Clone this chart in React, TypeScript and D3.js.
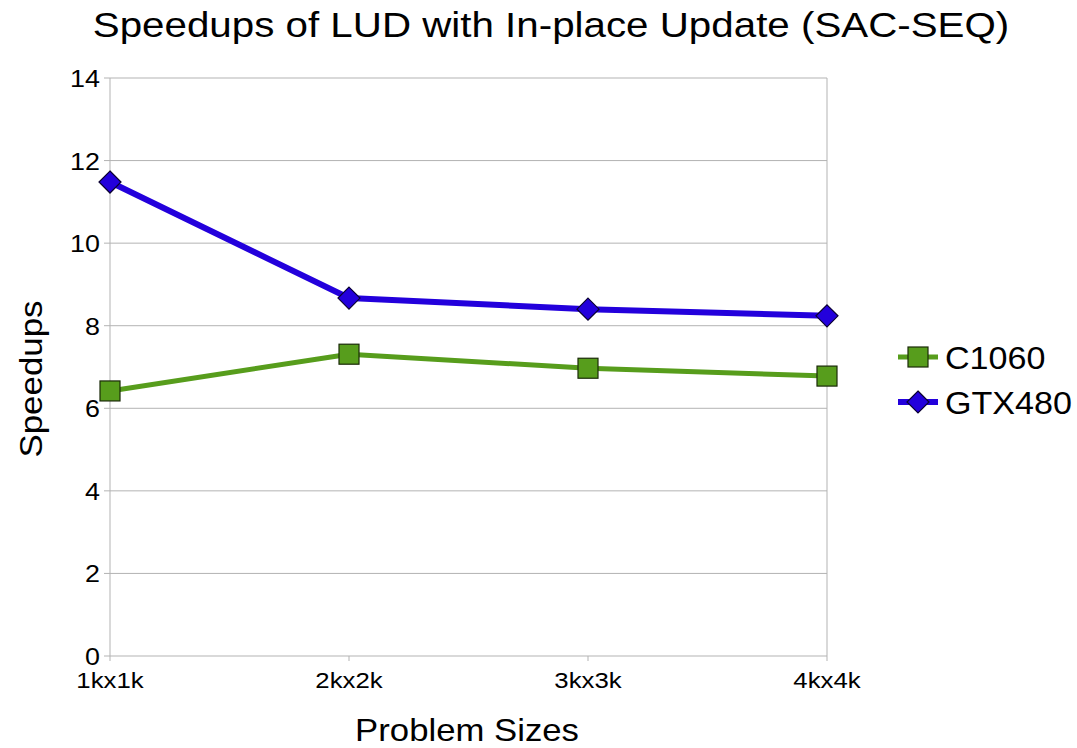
import React from "react";
import * as d3 from "d3";

const categories = ["1kx1k", "2kx2k", "3kx3k", "4kx4k"];
const c1060 = [6.42, 7.31, 6.97, 6.78];
const gtx480 = [11.48, 8.67, 8.40, 8.24];
const yTicks = [0, 2, 4, 6, 8, 10, 12, 14];
const seriesNames = ["C1060", "GTX480"];
const seriesColors = ["#579d1c", "#2300dc"];

const W = 1077, H = 748;
const left = 110, right = 827, top = 78, bottom = 656;
const font = "'Liberation Sans', Arial, sans-serif";
const SX = 1.12;
const widths = [5, 6];

function T(props: { x: number; y: number; size: number; anchor?: string; sx?: number; rotate?: number; children: React.ReactNode }) {
  const { x, y, size, anchor = "start", sx = SX, rotate = 0 } = props;
  return (
    <text
      transform={`translate(${x},${y}) rotate(${rotate}) scale(${sx},1)`}
      textAnchor={anchor}
      fontSize={size}
      fill="#000"
    >
      {props.children}
    </text>
  );
}

export default function App() {
  const x = d3.scalePoint<string>().domain(categories).range([left, right]).padding(0);
  const y = d3.scaleLinear().domain([0, 14]).range([bottom, top]);
  const line = d3.line<number>().x((_, i) => x(categories[i])!).y((d) => y(d));
  const series = [c1060, gtx480];

  const square = (cx: number, cy: number, s: number, color: string, key: string) => (
    <rect key={key} x={cx - s / 2} y={cy - s / 2} width={s} height={s} fill={color} stroke="#1a2a08" strokeWidth={1.2} />
  );
  const diamond = (cx: number, cy: number, r: number, color: string, key: string) => (
    <path key={key} d={`M${cx},${cy - r}L${cx + r},${cy}L${cx},${cy + r}L${cx - r},${cy}Z`} fill={color} stroke="#0a0030" strokeWidth={1.2} />
  );

  return (
    <svg width={W} height={H} style={{ position: "absolute", left: 0, top: 0, background: "#fff" }} fontFamily={font}>
      <T x={551} y={37} size={36} anchor="middle">Speedups of LUD with In-place Update (SAC-SEQ)</T>
      {yTicks.map((t) => (
        <g key={t}>
          <line x1={left - 6} x2={right} y1={y(t)} y2={y(t)} stroke="#b3b3b3" strokeWidth={1} />
          <T x={left - 10} y={y(t) + 9} size={24} anchor="end">{t}</T>
        </g>
      ))}
      {categories.map((c) => (
        <g key={c}>
          <line x1={x(c)} x2={x(c)} y1={bottom} y2={bottom + 5} stroke="#b3b3b3" />
          <T x={x(c)!} y={688} size={23} anchor="middle">{c}</T>
        </g>
      ))}
      <line x1={left} x2={left} y1={top} y2={bottom} stroke="#b3b3b3" />
      <line x1={right} x2={right} y1={top} y2={bottom} stroke="#b3b3b3" />
      <T x={467} y={741} size={31} anchor="middle">Problem Sizes</T>
      <T x={42} y={379} size={32} sx={1.09} rotate={-90} anchor="middle">Speedups</T>

      {series.map((s, si) => (
        <path key={si} d={line(s)!} fill="none" stroke={seriesColors[si]} strokeWidth={widths[si]} strokeLinejoin="round" />
      ))}
      {c1060.map((v, i) => square(x(categories[i])!, y(v), 20, seriesColors[0], "s" + i))}
      {gtx480.map((v, i) => diamond(x(categories[i])!, y(v), 11, seriesColors[1], "d" + i))}

      {seriesNames.map((n, i) => {
        const ly = 357 + i * 45;
        return (
          <g key={n}>
            <line x1={898} x2={938} y1={ly} y2={ly} stroke={seriesColors[i]} strokeWidth={widths[i]} />
            {i === 0 ? square(918, ly, 20, seriesColors[0], "ls") : diamond(918, ly, 11, seriesColors[1], "ld")}
            <T x={945} y={ly + 12} size={31} sx={1.1}>{n}</T>
          </g>
        );
      })}
    </svg>
  );
}
